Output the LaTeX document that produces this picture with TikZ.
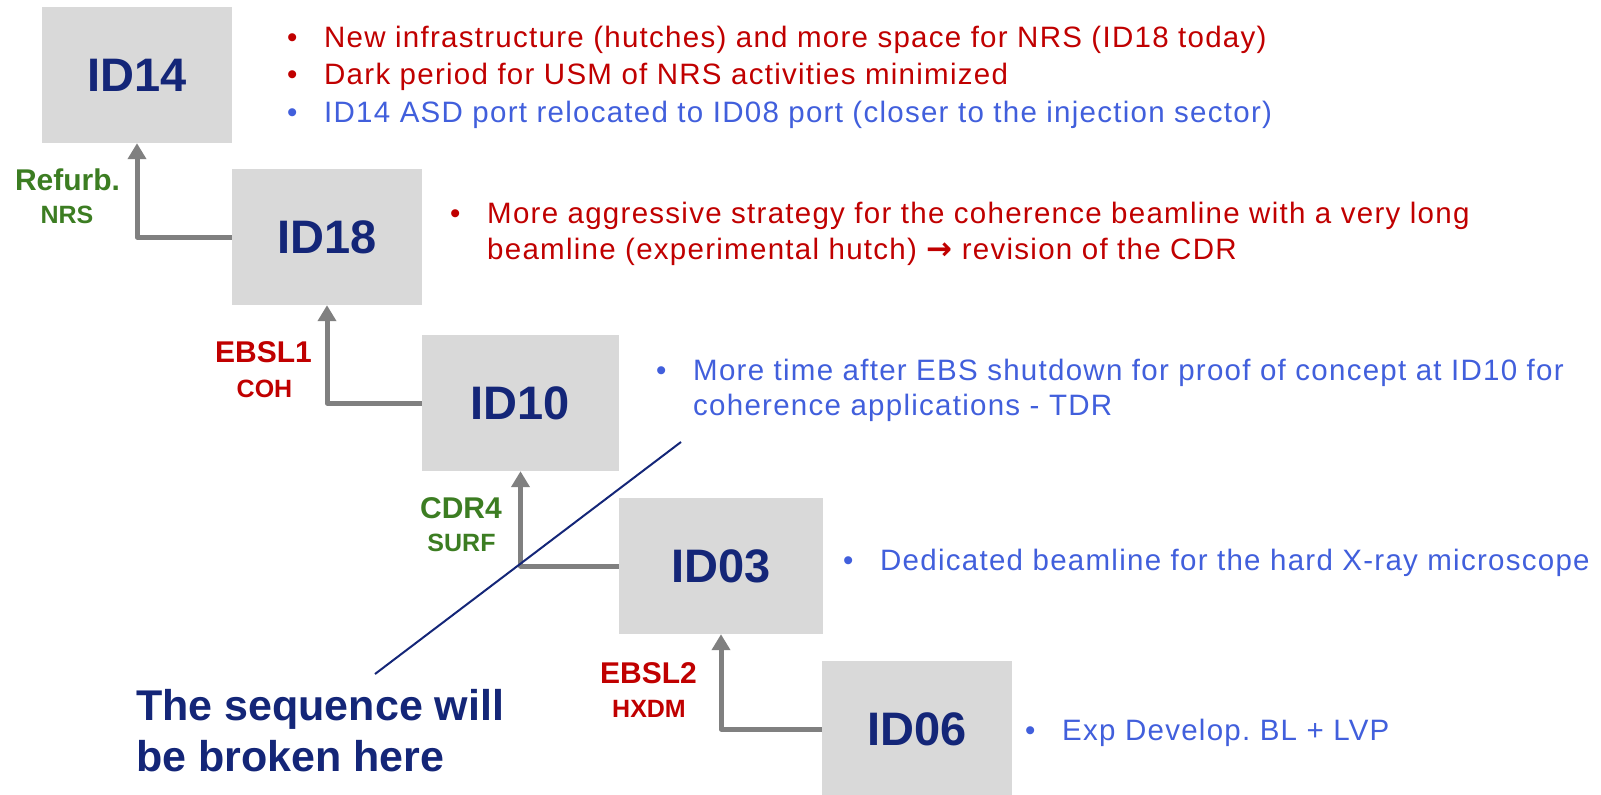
\documentclass[tikz,border=0pt]{standalone}
\usepackage{fontspec}
\setmainfont{Liberation Sans}
\newfontfamily\bulfont[LetterSpace=4.3]{Liberation Sans}
\newfontfamily\arrfont{DejaVu Sans}
\usetikzlibrary{arrows.meta}
\frenchspacing
\definecolor{navy}{RGB}{20,38,120}
\definecolor{bred}{RGB}{192,0,0}
\definecolor{bblue}{RGB}{65,95,220}
\definecolor{bgreen}{RGB}{60,125,34}
\definecolor{boxgray}{RGB}{217,217,217}
\definecolor{arrgray}{RGB}{128,128,128}
\tikzset{
  idbox/.style={fill=boxgray, draw=none, inner sep=0pt, minimum height=136pt, font=\fontsize{47}{54}\selectfont\bfseries, text=navy},
  flow/.style={draw=arrgray, line width=5pt, line join=round, -{Triangle[width=18pt,length=16pt]}},
  lbig/.style={anchor=base, inner sep=0pt, font=\fontsize{30}{36}\selectfont\bfseries},
  lsmall/.style={anchor=base, inner sep=0pt, font=\fontsize{25}{30}\selectfont\bfseries},
  btxt/.style={anchor=base west, inner sep=0pt, font=\bulfont\fontsize{29.5}{34}\selectfont\frenchspacing},
  brk/.style={anchor=base west, inner sep=0pt, font=\fontsize{43}{51}\selectfont\bfseries, text=navy},
}
\begin{document}
\begin{tikzpicture}[x=1pt,y=-1pt]
\useasboundingbox (0,0) rectangle (1601,795);
% boxes
\node[idbox, minimum width=190pt] (id14) at (137,75) {ID14};
\node[idbox, minimum width=190pt] (id18) at (327,237) {ID18};
\node[idbox, minimum width=197pt] (id10) at (520.5,403) {ID10};
\node[idbox, minimum width=204pt] (id03) at (721,566) {ID03};
\node[idbox, minimum width=190pt] (id06) at (917,729) {ID06};
% connectors
\draw[flow] (id18.west) -| (id14.south);
\draw[flow] (id10.west) -| (id18.south);
\draw[flow] (id03.west) -| (id10.south);
\draw[flow] (id06.west) -| (id03.south);
% labels
\node[lbig, text=bgreen] (l1a) at (67.5,190) {Refurb.};
\node[lsmall, text=bgreen] (l1b) at (67,223) {NRS};
\node[lbig, text=bred] (l2a) at (263.5,362) {EBSL1};
\node[lsmall, text=bred] (l2b) at (264.5,397) {COH};
\node[lbig, text=bgreen] (l3a) at (461,518) {CDR4};
\node[lsmall, text=bgreen] (l3b) at (461.5,551) {SURF};
\node[lbig, text=bred] (l4a) at (648.5,683) {EBSL2};
\node[lsmall, text=bred] (l4b) at (649,717) {HXDM};
% break line
\coordinate (b1) at (375,674);
\coordinate (b2) at (681,442);
\draw[navy, line width=2pt] (b1) -- (b2);
\node[brk] (brk1) at (136,720) {The sequence will};
\node[brk] (brk2) at (136,771) {be broken here};
% ID14 bullets
\node[btxt, text=bred] (u1) at (287,47) {•};
\node[btxt, text=bred] (t1) at (324,47) {New infrastructure (hutches) and more space for NRS (ID18 today)};
\node[btxt, text=bred] (u2) at (287,84.5) {•};
\node[btxt, text=bred] (t2) at (324,84.5) {Dark period for USM of NRS activities minimized};
\node[btxt, text=bblue] (u3) at (287,122) {•};
\node[btxt, text=bblue] (t3) at (324,122) {ID14 ASD port relocated to ID08 port (closer to the injection sector)};
% ID18
\node[btxt, text=bred] (u4) at (450,223) {•};
\node[btxt, text=bred] (t4) at (487,223) {More aggressive strategy for the coherence beamline with a very long};
\node[btxt, text=bred] (t5) at (487,259) {beamline (experimental hutch) {\arrfont\bfseries\fontsize{31}{34}\selectfont →} revision of the CDR};
% ID10
\node[btxt, text=bblue] (u6) at (656,380) {•};
\node[btxt, text=bblue] (t6) at (693,380) {More time after EBS shutdown for proof of concept at ID10 for};
\node[btxt, text=bblue] (t7) at (693,415) {coherence applications - TDR};
% ID03
\node[btxt, text=bblue] (u8) at (843,570) {•};
\node[btxt, text=bblue] (t8) at (880,570) {Dedicated beamline for the hard X-ray microscope};
% ID06
\node[btxt, text=bblue] (u9) at (1025,740) {•};
\node[btxt, text=bblue] (t9) at (1062,740) {Exp Develop. BL + LVP};
\end{tikzpicture}
\end{document}
